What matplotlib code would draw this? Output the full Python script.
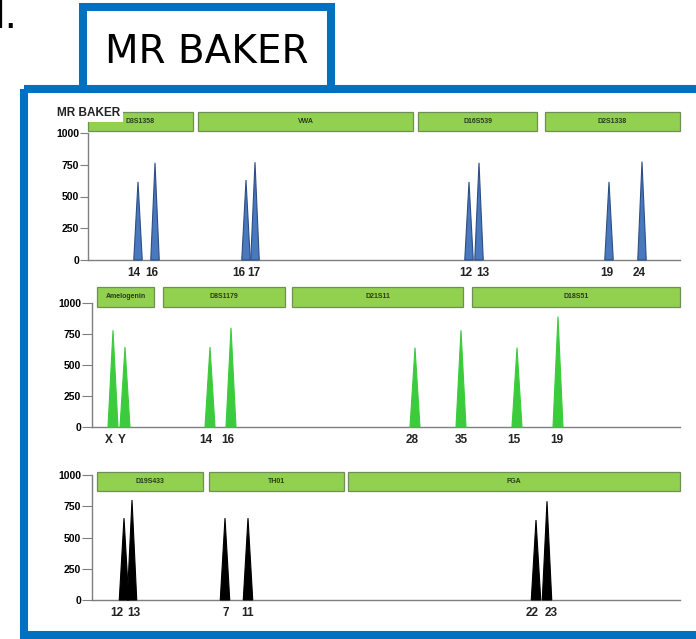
import matplotlib
matplotlib.use("Agg")
import matplotlib.pyplot as plt
from matplotlib.patches import Rectangle
import matplotlib.transforms as mtransforms

W, H = 696, 639
DPI = 100

# ---------------------------------------------------------------------------
# Data (x in image-scale position units,
# y in RFU)
# ---------------------------------------------------------------------------

# blue dye
blue_markers = ["D3S1358", "VWA", "D16S539", "D2S1338"]
blue_marker_start = [88, 198, 418, 545]
blue_marker_end = [193, 413, 537, 680]
blue_alleles = ["14", "16", "16", "17", "12", "13", "19", "24"]
blue_pos = [138, 155, 246, 255, 469, 479, 609, 642]
blue_rfu = [615, 765, 630, 770, 615, 765, 615, 775]
blue_label_pos = [134, 152, 239, 254, 466, 483, 607, 639]

# green dye
green_markers = ["Amelogenin", "D8S1179", "D21S11", "D18S51"]
green_marker_start = [97, 163, 292, 472]
green_marker_end = [154, 285, 463, 680]
green_alleles = ["X", "Y", "14", "16", "28", "35", "15", "19"]
green_pos = [113, 125, 210, 231, 415, 461, 517, 558]
green_rfu = [780, 645, 645, 800, 640, 780, 640, 890]
green_label_pos = [109, 122, 206, 228, 412, 461, 514, 557]

# black (yellow) dye
black_markers = ["D19S433", "TH01", "FGA"]
black_marker_start = [97, 209, 348]
black_marker_end = [203, 344, 680]
black_alleles = ["12", "13", "7", "11", "22", "23"]
black_pos = [124, 132, 225, 248, 536, 547]
black_rfu = [655, 800, 655, 655, 640, 790]
black_label_pos = [117, 134, 226, 248, 532, 551]

yticks = [0, 250, 500, 750, 1000]

NARROW = ["Liberation Sans Narrow", "Liberation Sans", "DejaVu Sans"]
FRAME_BLUE = "#0070C0"
BOX_GREEN = "#92D050"


def px_rect(left, top, right, bottom):
    return [left / W, 1 - bottom / H, (right - left) / W, (bottom - top) / H]


def draw_panel(fig, rect, xlim, markers, m_start, m_end, alleles, pos, rfu,
               label_pos, face, edge, peak_w, box_y, tick_len):
    ax = fig.add_axes(px_rect(*rect))
    ax.set_xlim(*xlim)
    ax.set_ylim(0, 1000)
    ax.patch.set_alpha(0)
    for s in ("top", "right"):
        ax.spines[s].set_visible(False)
    for s in ("left", "bottom"):
        ax.spines[s].set_color("#7F7F7F")
        ax.spines[s].set_linewidth(1.0)
    ax.set_xticks([])
    ax.set_yticks(yticks)
    ax.tick_params(axis="y", length=tick_len, width=0.8, color="#7F7F7F",
                   pad=1, labelsize=7.5)
    for lab in ax.get_yticklabels():
        lab.set_fontweight("bold")
        lab.set_family(NARROW)

    # marker bins
    trans = mtransforms.blended_transform_factory(ax.transData, ax.transAxes)
    for name, a, b in zip(markers, m_start, m_end):
        ax.add_patch(Rectangle((a, box_y[0]), b - a, box_y[1] - box_y[0],
                               transform=trans, clip_on=False,
                               facecolor=BOX_GREEN, edgecolor="#6F8F55",
                               linewidth=0.9))
        ax.text((a + b) / 2, (box_y[0] + box_y[1]) / 2, name,
                transform=trans, ha="center", va="center", fontsize=5,
                fontweight="bold", family=NARROW, color="#2A3A20")

    # peaks
    for x, h in zip(pos, rfu):
        ax.fill([x - peak_w / 2, x, x + peak_w / 2], [0, h, 0],
                facecolor=face, edgecolor=edge, linewidth=0.8,
                clip_on=False, zorder=3)

    # allele calls
    for lab, x in zip(alleles, label_pos):
        ax.annotate(lab, xy=(x, 0), xytext=(0, -9.5),
                    textcoords="offset points", ha="center", va="center",
                    fontsize=8.5, fontweight="bold", family=NARROW,
                    color="#222222")
    return ax


fig = plt.figure(figsize=(W / DPI, H / DPI), dpi=DPI)
fig.patch.set_facecolor("white")

draw_panel(fig, (88, 133, 680, 260), (88, 680), blue_markers,
           blue_marker_start, blue_marker_end, blue_alleles, blue_pos,
           blue_rfu, blue_label_pos, "#4A78BD", "#2C4E86", 8.5,
           (1.016, 1.165), 5.5)
draw_panel(fig, (92, 303, 680, 427), (92, 680), green_markers,
           green_marker_start, green_marker_end, green_alleles, green_pos,
           green_rfu, green_label_pos, "#3CCB3C", "#3CCB3C", 10,
           (0.968, 1.129), 7)
draw_panel(fig, (92, 475, 680, 600), (92, 680), black_markers,
           black_marker_start, black_marker_end, black_alleles, black_pos,
           black_rfu, black_label_pos, "black", "black", 9.5,
           (0.872, 1.024), 7)

# overlay for frame, tab and headings (pixel coordinates), drawn on top
ov = fig.add_axes([0, 0, 1, 1])
ov.set_zorder(10)
ov.patch.set_alpha(0)
ov.set_xlim(0, W)
ov.set_ylim(H, 0)
ov.axis("off")
ov.add_patch(Rectangle((23.5, 89), 800, 546, fill=False,
                       edgecolor=FRAME_BLUE, linewidth=5.8))
ov.add_patch(Rectangle((83, 7), 247.5, 82, facecolor="white",
                       edgecolor=FRAME_BLUE, linewidth=5.8))
ov.text(207, 63, "MR BAKER", ha="center", va="baseline", fontsize=28,
        color="black")
ov.text(18, 28, "d.", ha="right", va="baseline", fontsize=28, color="black")
# small sample label sits over the corner of the first bin
ov.add_patch(Rectangle((55, 104), 68, 17.5, facecolor="white",
                       edgecolor="none"))
ov.text(57, 113, "MR BAKER", ha="left", va="center", fontsize=8.5,
        fontweight="bold", family=NARROW, color="#222222")

fig.savefig("out.png", dpi=DPI)
